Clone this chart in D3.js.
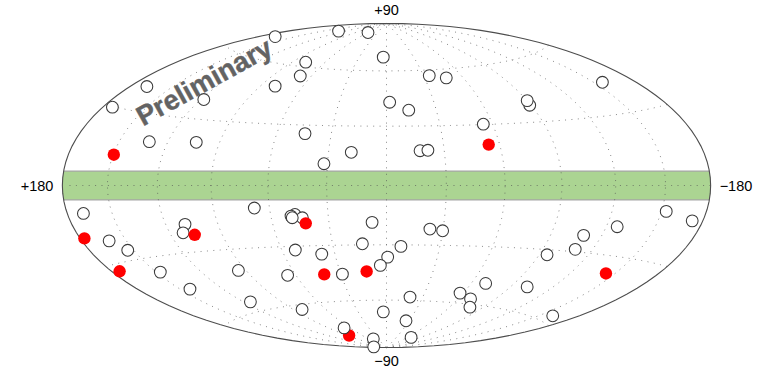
<!DOCTYPE html><html><head><meta charset="utf-8"><style>html,body{margin:0;background:#fff}svg{display:block}</style>
<script src="https://cdn.jsdelivr.net/npm/d3@7"></script></head><body>
<script>
// [longitude, latitude] in degrees
const openSources=[[173.2,29.7],[168.0,39.4],[118.0,38.9],[167.7,69.4],[130.6,80.3],[59.0,83.0],[78.0,62.5],[68.7,55.1],[79.6,48.8],[44.4,25.7],[18.2,16.6],[31.8,10.8],[131.2,18.6],[103.3,19.6],[3.6,68.1],[-2.0,42.6],[-34.6,56.8],[-46.9,55.1],[-13.4,38.3],[-89.2,38.2],[-90.1,40.5],[-156.2,43.1],[-54.7,30.2],[-17.4,17.4],[-21.5,17.6],[168.8,-10.4],[161.3,-21.5],[153.9,-26.0],[108.7,-17.4],[112.1,-21.1],[68.0,-10.8],[47.2,-14.2],[49.4,-15.0],[43.6,-15.9],[48.9,-15.8],[7.5,-18.5],[52.2,-31.9],[37.7,-34.4],[13.4,-29.4],[-0.7,-36.4],[3.8,-40.8],[147.2,-36.3],[94.9,-40.2],[65.5,-44.5],[29.0,-45.2],[143.1,-45.0],[114.6,-55.2],[82.1,-62.6],[3.4,-66.9],[45.1,-83.6],[159.8,-87.7],[-23.0,-21.8],[-29.9,-22.6],[-8.1,-30.8],[-109.2,-22.4],[-126.5,-17.7],[-153.0,-10.2],[-172.6,-13.0],[-109.4,-28.9],[-94.7,-32.4],[-101.8,-48.2],[-70.1,-48.6],[-70.2,-57.2],[-57.5,-54.6],[-78.3,-61.5],[-19.5,-58.1],[-25.8,-72.1],[-69.4,-81.9],[-160.8,-57.1]];
const filledSources=[[149.6,12.3],[-54.1,20.0],[177.0,-19.3],[174.3,-32.7],[105.9,-22.3],[42.3,-18.7],[41.0,-45.0],[12.8,-44.0],[86.6,-79.7],[-143.8,-37.3]];
const openOnTop=[[68.6,-75.2]];
const meridians=[-150,-120,-90,-60,-30,0,30,60,90,120,150];
const parallels=[-60,-30,0,30,60];
const bandLat=[-7.2,7.2];
const lonLabels=["+180","\u2212180"];
const latLabels=["+90","\u221290"];
const watermark="Preliminary";

function hammerRaw(l,p){const c=Math.cos(p),d=Math.sqrt(1+c*Math.cos(l/2));
  return [2*Math.SQRT2*c*Math.sin(l/2)/d,Math.SQRT2*Math.sin(p)/d];}
const projection=d3.geoProjection(hammerRaw).scale(114.6).translate([386.5,185.5]).reflectX(true).precision(.1);
const path=d3.geoPath(projection);
const W=770,H=370;
const svg=d3.select("body").append("svg").attr("width",W).attr("height",H);
const F="'Liberation Sans',Arial,Helvetica,sans-serif";

svg.append("defs").append("clipPath").attr("id","sky").append("path").attr("d",path({type:"Sphere"}));
const yTop=projection([0,bandLat[1]])[1],yBot=projection([0,bandLat[0]])[1];
const [xL,xR]=[projection([179.999,0])[0],projection([-179.999,0])[0]];
svg.append("rect").attr("clip-path","url(#sky)").attr("x",xL).attr("width",xR-xL).attr("y",yTop).attr("height",yBot-yTop)
  .attr("fill","#abd492").attr("stroke","#a3a3a3").attr("stroke-width",1.2);

const gridStyle=s=>s.attr("fill","none").attr("stroke","#555").attr("stroke-opacity",.7).attr("stroke-width",1).attr("stroke-dasharray","1 5.4");
meridians.forEach(m=>{
  const c=d3.range(-90,90.01,2).map(p=>[m,p]);
  svg.append("path").attr("d",path({type:"LineString",coordinates:c})).call(gridStyle);
});
parallels.forEach(p=>{
  const c=d3.range(-179.9,180,2).map(l=>[l,p]);
  svg.append("path").attr("d",path({type:"LineString",coordinates:c})).call(gridStyle);
});
svg.append("path").attr("d",path({type:"Sphere"})).attr("fill","none").attr("stroke","#4d4d4d").attr("stroke-width",1.1);

const draw=(data,open)=>svg.append("g").selectAll("circle").data(data).join("circle")
  .attr("cx",d=>projection(d)[0]).attr("cy",d=>projection(d)[1])
  .attr("r",open?5.9:6.2).attr("fill",open?"#fff":"#ff0000")
  .attr("stroke",open?"#3a3a3a":"none").attr("stroke-width",open?1.05:0);
draw(openSources,true);draw(filledSources,false);draw(openOnTop,true);

const label=(t,x,y,a)=>svg.append("text").text(t).attr("x",x).attr("y",y).attr("text-anchor",a)
  .attr("font-family",F).attr("font-size",14.5).attr("fill","#000");
const [cx,pTop]=projection([0,89.999]),pBot=projection([0,-89.999])[1];
label(latLabels[0],cx,pTop-8,"middle");
label(latLabels[1],cx,pBot+18,"middle");
label(lonLabels[0],xL-9,191,"end");
label(lonLabels[1],xR+9,191,"start");

svg.append("text").text(watermark).attr("transform","translate(143,126.5) rotate(-29)")
  .attr("font-family",F).attr("font-size",27.6).attr("font-weight",700).attr("fill","#636363")
  .attr("stroke","#636363").attr("stroke-width",.4);
</script></body></html>
